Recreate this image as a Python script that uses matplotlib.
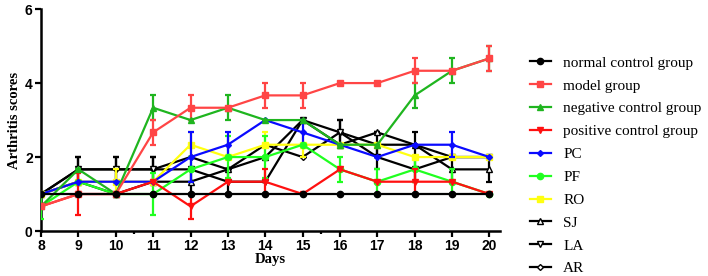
import matplotlib
matplotlib.use("Agg")
import matplotlib.pyplot as plt

days = [8, 9, 10, 11, 12, 13, 14, 15, 16, 17, 18, 19, 20]

normal = [1, 1, 1, 1, 1, 1, 1, 1, 1, 1, 1, 1, 1]
model = [0.667, 1, 1, 2.667, 3.333, 3.333, 3.667, 3.667, 4, 4, 4.333, 4.333, 4.667]
negative = [0.667, 1.667, 1, 3.333, 3, 3.333, 3, 3, 2.333, 2.333, 3.667, 4.333, 4.667]
positive = [0.667, 1, 1, 1.333, 0.667, 1.333, 1.333, 1, 1.667, 1.333, 1.333, 1.333, 1]
pc = [1, 1.333, 1.333, 1.333, 2, 2.333, 3, 2.667, 2.333, 2, 2.333, 2.333, 2]
pf = [0.667, 1.333, 1, 1, 1.667, 2, 2, 2.333, 1.667, 1.333, 1.667, 1.333, 1]
ro = [1, 1.333, 1.333, 1.333, 2.333, 2, 2.333, 2.333, 2.333, 2.333, 2, 2, 2]
sj = [1, 1.333, 1, 1.333, 1.333, 1.667, 2, 3, 2.333, 2.667, 2.333, 1.667, 1.667]
la = [1, 1.667, 1.667, 1.667, 1.667, 1.333, 1.333, 3, 2.667, 2, 1.667, 2, 2]
ar = [1, 1.667, 1.667, 1.667, 2, 1.667, 2.333, 2, 2.667, 2.333, 2.333, 2, 2]

normal_err = [0, 0, 0, 0, 0, 0, 0, 0, 0, 0, 0, 0, 0]
model_err = [0, 0, 0, 0.333, 0.333, 0, 0.333, 0.333, 0, 0, 0.333, 0, 0.333]
negative_err = [0, 0, 0, 0.333, 0, 0.333, 0, 0, 0, 0, 0.333, 0.333, 0.333]
positive_err = [0, 0.577, 0, 0, 0.333, 0, 0.333, 0, 0, 0, 0.333, 0, 0]
pc_err = [0, 0, 0, 0, 0.667, 0.333, 0, 0.333, 0, 0, 0, 0.333, 0]
pf_err = [0.333, 0, 0, 0.577, 0.333, 0.577, 0.577, 0, 0.333, 0.333, 0.333, 0.333, 0]
ro_err = [0, 0, 0.333, 0, 0.333, 0, 0.333, 0.333, 0, 0, 0, 0, 0]
sj_err = [0, 0, 0, 0, 0.333, 0, 0, 0, 0, 0, 0, 0.333, 0.333]
la_err = [0, 0.333, 0.333, 0.333, 0, 0.333, 0, 0, 0.333, 0.333, 0.333, 0, 0]
ar_err = [0, 0.333, 0.333, 0.333, 0, 0, 0, 0, 0.333, 0.333, 0.333, 0, 0]

series = [
    ("normal control group", normal, normal_err, "black", "o", "black"),
    ("model group", model, model_err, "#ff4545", "s", "#ff4545"),
    ("negative control group", negative, negative_err, "#1fb51f", "^", "#1fb51f"),
    ("positive control group", positive, positive_err, "#ff1010", "v", "#ff1010"),
    ("PC", pc, pc_err, "#0a0aff", "D", "#0a0aff"),
    ("PF", pf, pf_err, "#20ff20", "o", "#20ff20"),
    ("RO", ro, ro_err, "#ffff10", "s", "#ffff10"),
    ("SJ", sj, sj_err, "black", "^", "white"),
    ("LA", la, la_err, "black", "v", "white"),
    ("AR", ar, ar_err, "black", "D", "white"),
]

fig = plt.figure(figsize=(7.08, 2.76), dpi=100)
ax = fig.add_axes([0.058, 0.163, 0.648, 0.804])

handles = []
for i, (name, vals, err, col, mk, fc) in enumerate(series):
    ms = 3 if mk == "D" else 4.5
    h = ax.errorbar(days, vals, yerr=err, color=col, marker=mk, markersize=ms,
                    markerfacecolor=fc, markeredgecolor=col, linewidth=1.6,
                    elinewidth=1.6, capsize=2.5, capthick=1.6, label=name,
                    zorder=3 + (10 - i) * 0.1)
    handles.append(h[0])

ax.set_xlim(8, 20.28)
ax.set_ylim(0, 6)
ax.set_xticks(days)
ax.set_xticks([10.5, 15.5], minor=True)
ax.set_yticks([0, 2, 4, 6])
ax.spines["top"].set_visible(False)
ax.spines["right"].set_visible(False)
for s in ["left", "bottom"]:
    ax.spines[s].set_linewidth(1.8)
ax.tick_params(axis="both", which="major", width=1.6, length=4, labelsize=10, pad=2)
ax.tick_params(axis="x", which="minor", width=1.6, length=2)
for lab in ax.get_xticklabels() + ax.get_yticklabels():
    lab.set_fontweight("bold")
    lab.set_fontfamily("Liberation Sans")

ax.set_xlabel("Days", fontfamily="Liberation Serif", fontweight="bold", fontsize=10.5, labelpad=0)
ax.set_ylabel("Arthritis scores", fontfamily="Liberation Serif", fontweight="bold", fontsize=10.5, labelpad=3)

leg = fig.legend(handles, [s[0] for s in series], loc="upper left",
                 bbox_to_anchor=(0.748, 0.797), frameon=False,
                 prop={"family": "Liberation Serif", "size": 11},
                 handlelength=1.4, handletextpad=0.8, labelspacing=0.6,
                 borderaxespad=0, borderpad=0)

fig.savefig("out.png", dpi=100)
